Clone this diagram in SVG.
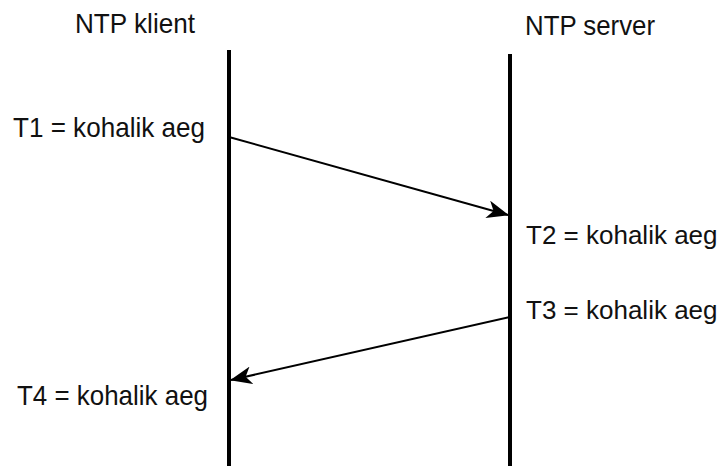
<svg xmlns="http://www.w3.org/2000/svg" width="723" height="466" viewBox="0 0 723 466">
<style>
text{font-family:"Liberation Sans",Arial,sans-serif;font-size:28px;fill:#111}
text.r{font-size:26px}
.life{stroke:#000;stroke-width:4;fill:none}
.msg{stroke:#000;stroke-width:2;fill:none}
</style>
<defs>
<marker id="ah" viewBox="0 0 22 18" refX="21" refY="9" markerWidth="22" markerHeight="18" markerUnits="userSpaceOnUse" orient="auto">
<path d="M0,0 L22,9 L0,18 L6,9 Z" fill="#000"/>
</marker>
</defs>
<rect width="723" height="466" fill="#fff"/>
<g id="client">
<text x="75" y="33" textLength="120" lengthAdjust="spacingAndGlyphs">NTP klient</text>
<line class="life" x1="229" y1="50" x2="229" y2="466"/>
</g>
<g id="server">
<text x="525" y="35" textLength="130" lengthAdjust="spacingAndGlyphs">NTP server</text>
<line class="life" x1="510" y1="54" x2="510" y2="466"/>
</g>
<g id="labels">
<text class="r" x="526" y="244">T2 = kohalik aeg</text>
<text class="r" x="526" y="319">T3 = kohalik aeg</text>
<text x="13" y="137" textLength="192" lengthAdjust="spacingAndGlyphs">T1 = kohalik aeg</text>
<text x="17" y="405" textLength="191" lengthAdjust="spacingAndGlyphs">T4 = kohalik aeg</text>
</g>
<g id="connectors">
<line class="msg" x1="229" y1="137" x2="508" y2="215" marker-end="url(#ah)"/>
<line class="msg" x1="510" y1="317" x2="231" y2="380" marker-end="url(#ah)"/>
</g>
</svg>
